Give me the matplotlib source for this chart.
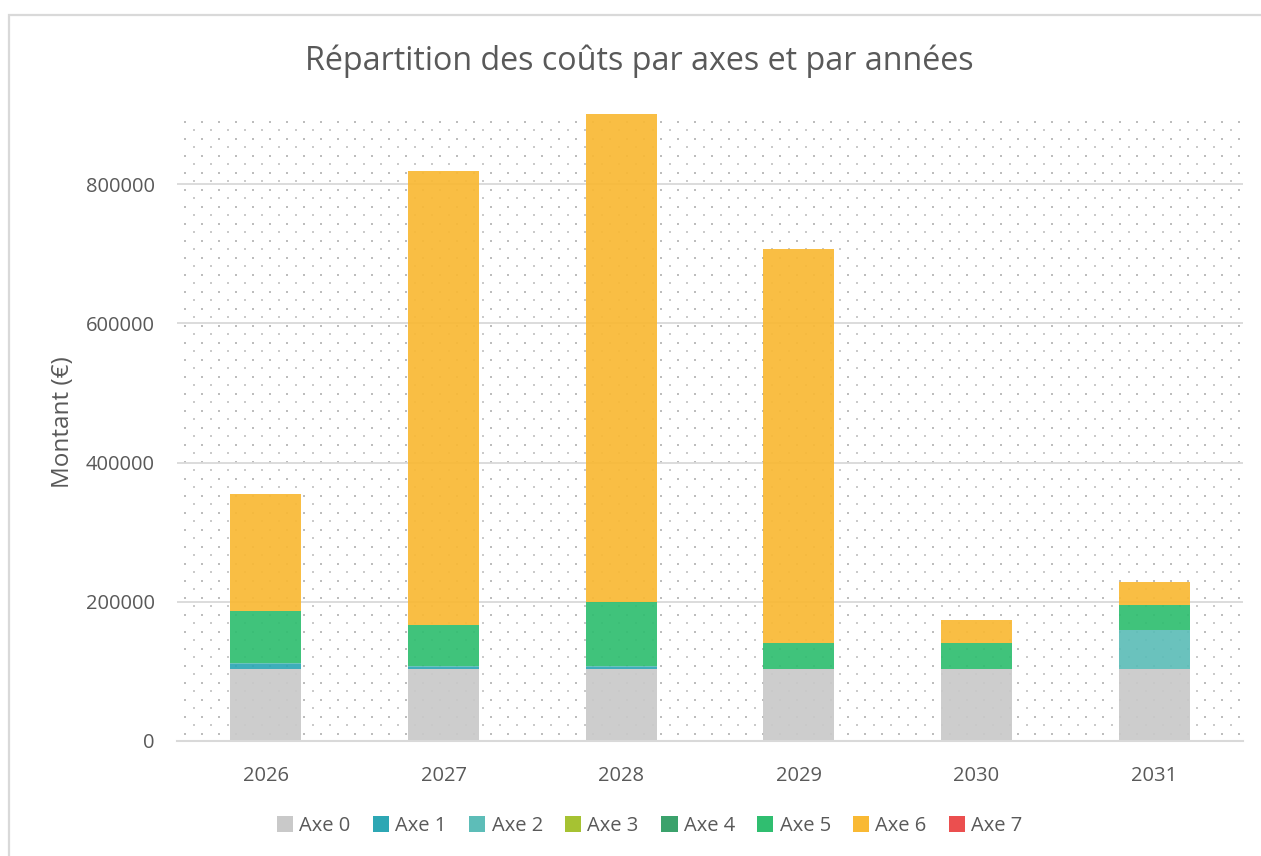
import matplotlib
matplotlib.use("Agg")
import matplotlib.pyplot as plt
import numpy as np
from matplotlib.patches import Rectangle

years = ["2026", "2027", "2028", "2029", "2030", "2031"]
series_names = ["Axe 0", "Axe 1", "Axe 2", "Axe 3", "Axe 4", "Axe 5", "Axe 6", "Axe 7"]
axe0 = [103000, 103000, 103000, 103000, 103000, 103000]
axe1 = [7000, 4000, 4000, 0, 0, 0]
axe2 = [2000, 1000, 1000, 0, 0, 56000]
axe3 = [0, 0, 0, 0, 0, 0]
axe4 = [0, 0, 0, 0, 0, 0]
axe5 = [75000, 59000, 92000, 38000, 38000, 36000]
axe6 = [168000, 652000, 700000, 566000, 33000, 34000]
axe7 = [0, 0, 0, 0, 0, 0]
yticks = [0, 200000, 400000, 600000, 800000]
colors = ["#c9c9c9", "#2da7b4", "#5dbdb8", "#a6c232", "#3ba26c", "#30be70", "#f9b934", "#eb4f4f"]

series = [axe0, axe1, axe2, axe3, axe4, axe5, axe6, axe7]

plt.rcParams['font.family'] = ['Open Sans', 'DejaVu Sans']
W, H = 1261, 856
fig = plt.figure(figsize=(W / 100, H / 100), dpi=100)
left, right, bottom, top = 177, 1243, 741, 114.4
ax = fig.add_axes([left / W, (H - bottom) / H, (right - left) / W, (bottom - top) / H])

# chart border
fig.patches.append(Rectangle((8.5 / W, -0.1), 1.2, (H - 14.5) / H + 0.1, transform=fig.transFigure,
                             fill=False, edgecolor="#d9d9d9", linewidth=1.6, zorder=0))

# dotted pattern background of plot area
pw, ph = right - left, bottom - top
xs1 = np.arange(185 - left, pw, 17.0)
ys1 = np.arange(122 - top, ph, 17.0)
xs2 = np.arange(194 - left, pw, 17.0)
ys2 = np.arange(113.3 - top, ph, 17.0)
X1, Y1 = np.meshgrid(xs1, ys1)
X2, Y2 = np.meshgrid(xs2, ys2)
ax.scatter(X1.ravel() / pw, 1 - Y1.ravel() / ph, s=2.4, marker="s", color="#bdbdbd",
           linewidths=0, transform=ax.transAxes, zorder=0.5, clip_on=True)
ax.scatter(X2.ravel() / pw, 1 - Y2.ravel() / ph, s=1.4, marker="s", color="#cacaca",
           linewidths=0, transform=ax.transAxes, zorder=0.5, clip_on=True)

x = np.arange(len(years))
bottoms = np.zeros(len(years))
for name, vals, c in zip(series_names, series, colors):
    v = np.array(vals, dtype=float)
    ax.bar(x, v, 0.4, bottom=bottoms, color=c, alpha=0.92, label=name, zorder=2, linewidth=0)
    bottoms += v

ax.set_xlim(-0.5, len(years) - 0.5)
ax.set_ylim(0, 900000)
ax.set_yticks(yticks)
ax.set_yticklabels([str(t) for t in yticks])
ax.set_xticks(x)
ax.set_xticklabels(years)
ax.tick_params(axis="both", length=0, labelsize=14.5, labelcolor="#595959")
ax.tick_params(axis="y", pad=16)
ax.tick_params(axis="x", pad=18)
ax.yaxis.grid(True, color="#d9d9d9", linewidth=1.3, zorder=1)
ax.set_axisbelow(True)
for s in ["top", "right", "left"]:
    ax.spines[s].set_visible(False)
ax.spines["bottom"].set_color("#d9d9d9")
ax.spines["bottom"].set_linewidth(1.5)
ax.patch.set_alpha(0)

ax.set_ylabel("Montant (€)", fontsize=17.5, color="#595959")
ax.yaxis.set_label_coords((75 - left) / pw, (bottom - 422) / ph)

fig.text(639 / W, 1 - 61 / H, "Répartition des coûts par axes et par années", ha="center", va="center",
         fontsize=23.2, color="#595959")

handles, labels = ax.get_legend_handles_labels()
leg = fig.legend(handles, labels, loc="center", bbox_to_anchor=(650 / W, 1 - 826 / H), ncol=8,
                 frameon=False, fontsize=14.5, handlelength=0.8, handleheight=0.8,
                 handletextpad=0.3, columnspacing=1.12, labelcolor="#595959")
for h in leg.legend_handles:
    h.set_alpha(1)

fig.savefig("out.png", dpi=100)
